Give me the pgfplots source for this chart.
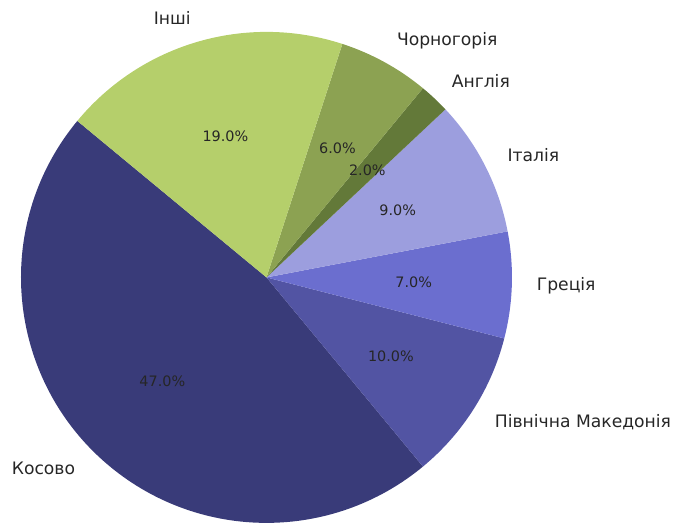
\documentclass[border=0pt]{standalone}
\usepackage{pgfplots}
\pgfplotsset{compat=1.18}
\usepackage{fontspec}
\setmainfont{DejaVu Sans}

\definecolor{c1}{HTML}{393B79}
\definecolor{c2}{HTML}{5254A3}
\definecolor{c3}{HTML}{6B6ECF}
\definecolor{c4}{HTML}{9C9EDE}
\definecolor{c5}{HTML}{637939}
\definecolor{c6}{HTML}{8CA252}
\definecolor{c7}{HTML}{B5CF6B}

% share in percent / colour / name, counterclockwise from 140.4 deg
\def\piedata{47/c1/Косово, 10/c2/Північна Македонія, 7/c3/Греція, 9/c4/Італія, 2/c5/Англія, 6/c6/Чорногорія, 19/c7/Інші}

\begin{document}
\begin{tikzpicture}
\begin{axis}[
    hide axis,
    scale only axis,
    x=3.72cm, y=3.72cm,
    xmin=-1.0855, xmax=1.660,
    ymin=-1.008, ymax=1.130,
    clip=false,
]
\coordinate (bl) at (axis cs:-1.0855,-1.008);
\coordinate (tr) at (axis cs:1.660,1.130);
% wedges
\xdef\angA{140.4}
\foreach \p/\c/\n in \piedata{
  \pgfmathsetmacro\angB{\angA+3.6*\p}
  \edef\temp{%
    \noexpand\fill[\c] (axis cs:0,0) -- (axis cs:{cos(\angA)},{sin(\angA)})
      arc[start angle=\angA, end angle=\angB, radius=3.72cm] -- cycle;
  }
  \temp
  \xdef\angA{\angB}
}
% labels on top of all wedges
\xdef\angA{140.4}
\foreach \p/\c/\n in \piedata{
  \pgfmathsetmacro\angB{\angA+3.6*\p}
  \pgfmathsetmacro\mid{(\angA+\angB)/2}
  \pgfmathsetmacro\cx{cos(\mid)}
  \ifdim\cx pt>0pt \def\anc{west}\else\def\anc{east}\fi
  \edef\temp{%
    \noexpand\node[font=\noexpand\fontsize{6.2}{7.4}\noexpand\selectfont, text=black!85]
      at (axis cs:{0.6*cos(\mid)},{0.6*sin(\mid)}) {\p.0\noexpand\%};
    \noexpand\node[anchor=\anc, inner sep=0pt, font=\noexpand\fontsize{7.4}{8.8}\noexpand\selectfont, text=black!85]
      at (axis cs:{1.1*cos(\mid)},{1.1*sin(\mid)}) {\n};
  }
  \temp
  \xdef\angA{\angB}
}
\end{axis}
% the picture is exactly the axis box
\pgfresetboundingbox
\path (bl) rectangle (tr);
\end{tikzpicture}
\end{document}
